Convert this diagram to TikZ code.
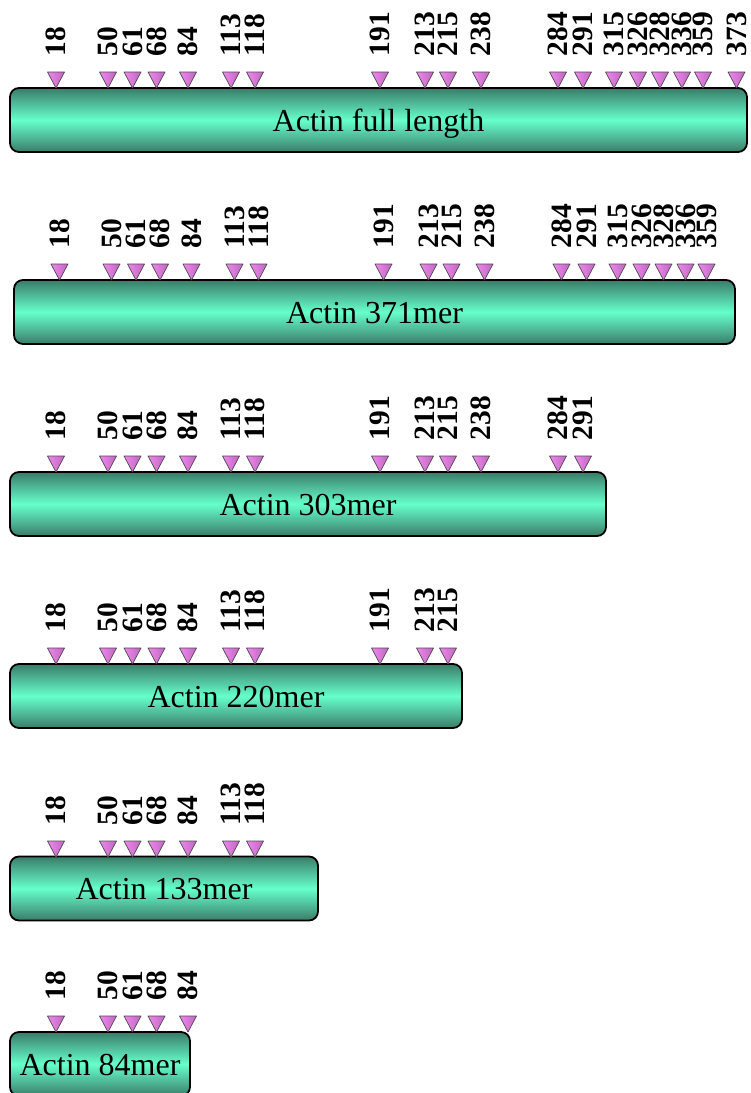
\documentclass[tikz,border=0pt]{standalone}
\usepackage{fontspec}
\setmainfont{Liberation Serif}
\definecolor{bardark}{HTML}{3A7D68}
\definecolor{barlight}{HTML}{66FFCC}
\definecolor{mkleft}{HTML}{EE88EE}
\definecolor{mkmid}{HTML}{FFB4FF}
\definecolor{mkright}{HTML}{C066C0}
\tikzset{
  bar/.style={draw=black, line width=1.8pt, rounded corners=9pt,
    top color=bardark, bottom color=bardark, middle color=barlight,
    minimum height=64pt, inner sep=0pt, text height=22pt, text depth=0pt,
    font=\fontsize{32}{32}\selectfont},
  lbl/.style={rotate=90, anchor=west, inner sep=0pt,
    font=\bfseries\fontsize{29.5}{29.5}\selectfont},
  marker/.pic={
    \path[left color=mkleft, middle color=mkmid, right color=mkright,
      draw=black!70, line width=0.7pt, line join=round]
      (-8.5,-16) -- (8.5,-16) -- (0,0) -- cycle;
  }
}
\newcommand\drawsites[3]{%
  \foreach \x/\t in {#3} {
    \pic at ({\x+#2}, #1) {marker};
    \node[lbl] (s#1-\t) at ({\x+#2}, {#1-31.5}) {\t};
  }}
\begin{document}
\begin{tikzpicture}[x=1pt, y=-1pt]
\clip (0,0) rectangle (751,1093);
\fill[white] (0,0) rectangle (751,1093);

\node[bar, minimum width=737pt] (b1) at (378.5,120) {Actin full length};
\node[bar, minimum width=721pt] (b2) at (374.5,312) {Actin 371mer};
\node[bar, minimum width=596pt] (b3) at (308,504) {Actin 303mer};
\node[bar, minimum width=452pt] (b4) at (236,696) {Actin 220mer};
\node[bar, minimum width=308pt] (b5) at (164,888.5) {Actin 133mer};
\node[bar, minimum width=180pt] (b6) at (100,1064) {Actin 84mer};

\drawsites{88}{0}{56/18,108/50,132.5/61,156.5/68,188/84,231/113,255/118,380/191,425/213,448/215,481/238,558/284,583/291,614/315,638/326,660/328,682/336,703/359,736.5/373}
\drawsites{280}{3.5}{56/18,108/50,132.5/61,156.5/68,188/84,231/113,255/118,380/191,425/213,448/215,481/238,558/284,583/291,614/315,638/326,660/328,682/336,703/359}
\drawsites{472}{0}{56/18,108/50,132.5/61,156.5/68,188/84,231/113,255/118,380/191,425/213,448/215,481/238,558/284,583/291}
\drawsites{664}{0}{56/18,108/50,132.5/61,156.5/68,188/84,231/113,255/118,380/191,425/213,448/215}
\drawsites{857}{0}{56/18,108/50,132.5/61,156.5/68,188/84,231/113,255/118}
\drawsites{1032}{0}{56/18,108/50,132.5/61,156.5/68,188/84}
\end{tikzpicture}
\end{document}
